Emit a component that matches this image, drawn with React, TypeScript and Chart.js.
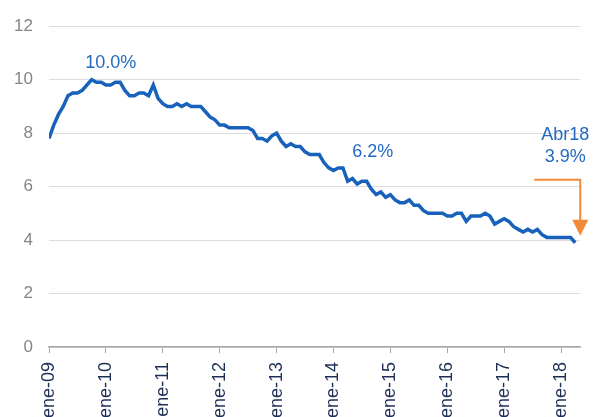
import React, { useEffect, useRef } from "react";
import { Chart, registerables } from "chart.js";

Chart.register(...registerables);

const yearTickLabels = ["ene-09", "ene-10", "ene-11", "ene-12", "ene-13", "ene-14", "ene-15", "ene-16", "ene-17", "ene-18"];

const rate2009 = [7.8, 8.3, 8.7, 9.0, 9.4, 9.5, 9.5, 9.6, 9.8, 10.0, 9.9, 9.9];
const rate2010 = [9.8, 9.8, 9.9, 9.9, 9.6, 9.4, 9.4, 9.5, 9.5, 9.4, 9.8, 9.3];
const rate2011 = [9.1, 9.0, 9.0, 9.1, 9.0, 9.1, 9.0, 9.0, 9.0, 8.8, 8.6, 8.5];
const rate2012 = [8.3, 8.3, 8.2, 8.2, 8.2, 8.2, 8.2, 8.1, 7.8, 7.8, 7.7, 7.9];
const rate2013 = [8.0, 7.7, 7.5, 7.6, 7.5, 7.5, 7.3, 7.2, 7.2, 7.2, 6.9, 6.7];
const rate2014 = [6.6, 6.7, 6.7, 6.2, 6.3, 6.1, 6.2, 6.2, 5.9, 5.7, 5.8, 5.6];
const rate2015 = [5.7, 5.5, 5.4, 5.4, 5.5, 5.3, 5.3, 5.1, 5.0, 5.0, 5.0, 5.0];
const rate2016 = [4.9, 4.9, 5.0, 5.0, 4.7, 4.9, 4.9, 4.9, 5.0, 4.9, 4.6, 4.7];
const rate2017 = [4.8, 4.7, 4.5, 4.4, 4.3, 4.4, 4.3, 4.4, 4.2, 4.1, 4.1, 4.1];
const rate2018 = [4.1, 4.1, 4.1, 3.9];

const unemployment = [
  ...rate2009, ...rate2010, ...rate2011, ...rate2012, ...rate2013,
  ...rate2014, ...rate2015, ...rate2016, ...rate2017, ...rate2018,
];

const peakLabel = "10.0%";
const midLabel = "6.2%";
const lastMonthLabel = "Abr18";
const lastValueLabel = "3.9%";

const LINE_COLOR = "#1862bb";
const TEXT_COLOR = "#2369c2";
const ORANGE = "#f28a3c";

const annotationPlugin = {
  id: "annots",
  afterDatasetsDraw(chart: any) {
    const { ctx, scales } = chart;
    const xs = scales.x;
    const ys = scales.y;
    const peakIdx = unemployment.indexOf(10.0);
    const midIdx = 63;
    const lastIdx = unemployment.length - 1;
    ctx.save();
    ctx.font = "18px 'Liberation Sans', Arial, sans-serif";
    ctx.fillStyle = TEXT_COLOR;
    ctx.textAlign = "center";
    ctx.textBaseline = "middle";
    const px = xs.getPixelForValue(peakIdx);
    const py = ys.getPixelForValue(unemployment[peakIdx]);
    ctx.fillText(peakLabel, px + 19, py - 17);
    const mx = xs.getPixelForValue(midIdx);
    const my = ys.getPixelForValue(unemployment[midIdx]);
    ctx.fillText(midLabel, mx + 25, my - 29);
    const lx = xs.getPixelForValue(lastIdx);
    const ly = ys.getPixelForValue(unemployment[lastIdx]);
    ctx.fillText(lastMonthLabel, lx - 10, ly - 108);
    ctx.fillText(lastValueLabel, lx - 10, ly - 86);
    // arrow
    const ax = lx + 5;
    ctx.strokeStyle = ORANGE;
    ctx.lineWidth = 2;
    ctx.beginPath();
    ctx.moveTo(lx - 41, ly - 63);
    ctx.lineTo(ax, ly - 63);
    ctx.lineTo(ax, ly - 22);
    ctx.stroke();
    ctx.fillStyle = ORANGE;
    ctx.beginPath();
    ctx.moveTo(ax - 8, ly - 23);
    ctx.lineTo(ax + 8, ly - 23);
    ctx.lineTo(ax, ly - 7);
    ctx.closePath();
    ctx.fill();
    ctx.restore();
  },
};

export default function App() {
  const ref = useRef<HTMLCanvasElement | null>(null);

  useEffect(() => {
    document.body.style.margin = "0";
    const canvas = ref.current;
    if (!canvas) return;
    const chart = new Chart(canvas, {
      type: "line",
      data: {
        datasets: [
          {
            data: unemployment.map((v, i) => ({ x: i, y: v })),
            borderColor: LINE_COLOR,
            borderWidth: 3.5,
            pointRadius: 0,
            tension: 0,
            fill: false,
          },
        ],
      },
      options: {
        animation: false,
        responsive: false,
        devicePixelRatio: 1,
        layout: { padding: { top: 24, right: 17, left: 0, bottom: 0 } },
        plugins: { legend: { display: false }, tooltip: { enabled: false } },
        scales: {
          x: {
            type: "linear",
            min: 0,
            max: 112,
            afterFit: (s: any) => {
              s.height = 70;
            },
            afterBuildTicks: (s: any) => {
              s.ticks = yearTickLabels.map((_, i) => ({ value: i * 12 }));
            },
            ticks: {
              autoSkip: false,
              minRotation: 90,
              maxRotation: 90,
              color: "#1c2e55",
              font: { size: 18, family: "'Liberation Sans', Arial, sans-serif" },
              padding: 9,
              callback: (v: any) => yearTickLabels[Math.round(Number(v) / 12)] ?? "",
            },
            grid: {
              display: true,
              drawOnChartArea: false,
              drawTicks: true,
              tickLength: 6,
              color: "#a6a6a6",
            },
            border: { display: true, color: "#a6a6a6", width: 1.5 },
          },
          y: {
            min: 0,
            max: 12,
            afterFit: (s: any) => {
              s.width = 49;
            },
            ticks: {
              stepSize: 2,
              color: "#858585",
              font: { size: 17, family: "'Liberation Sans', Arial, sans-serif" },
              padding: 16,
            },
            grid: { color: "#dcdcdc", drawTicks: false, lineWidth: 1 },
            border: { display: false },
          },
        },
      },
      plugins: [annotationPlugin],
    });
    return () => chart.destroy();
  }, []);

  return (
    <div style={{ width: 597, height: 417, background: "#fff" }}>
      <canvas ref={ref} width={597} height={417} style={{ display: "block" }} />
    </div>
  );
}
